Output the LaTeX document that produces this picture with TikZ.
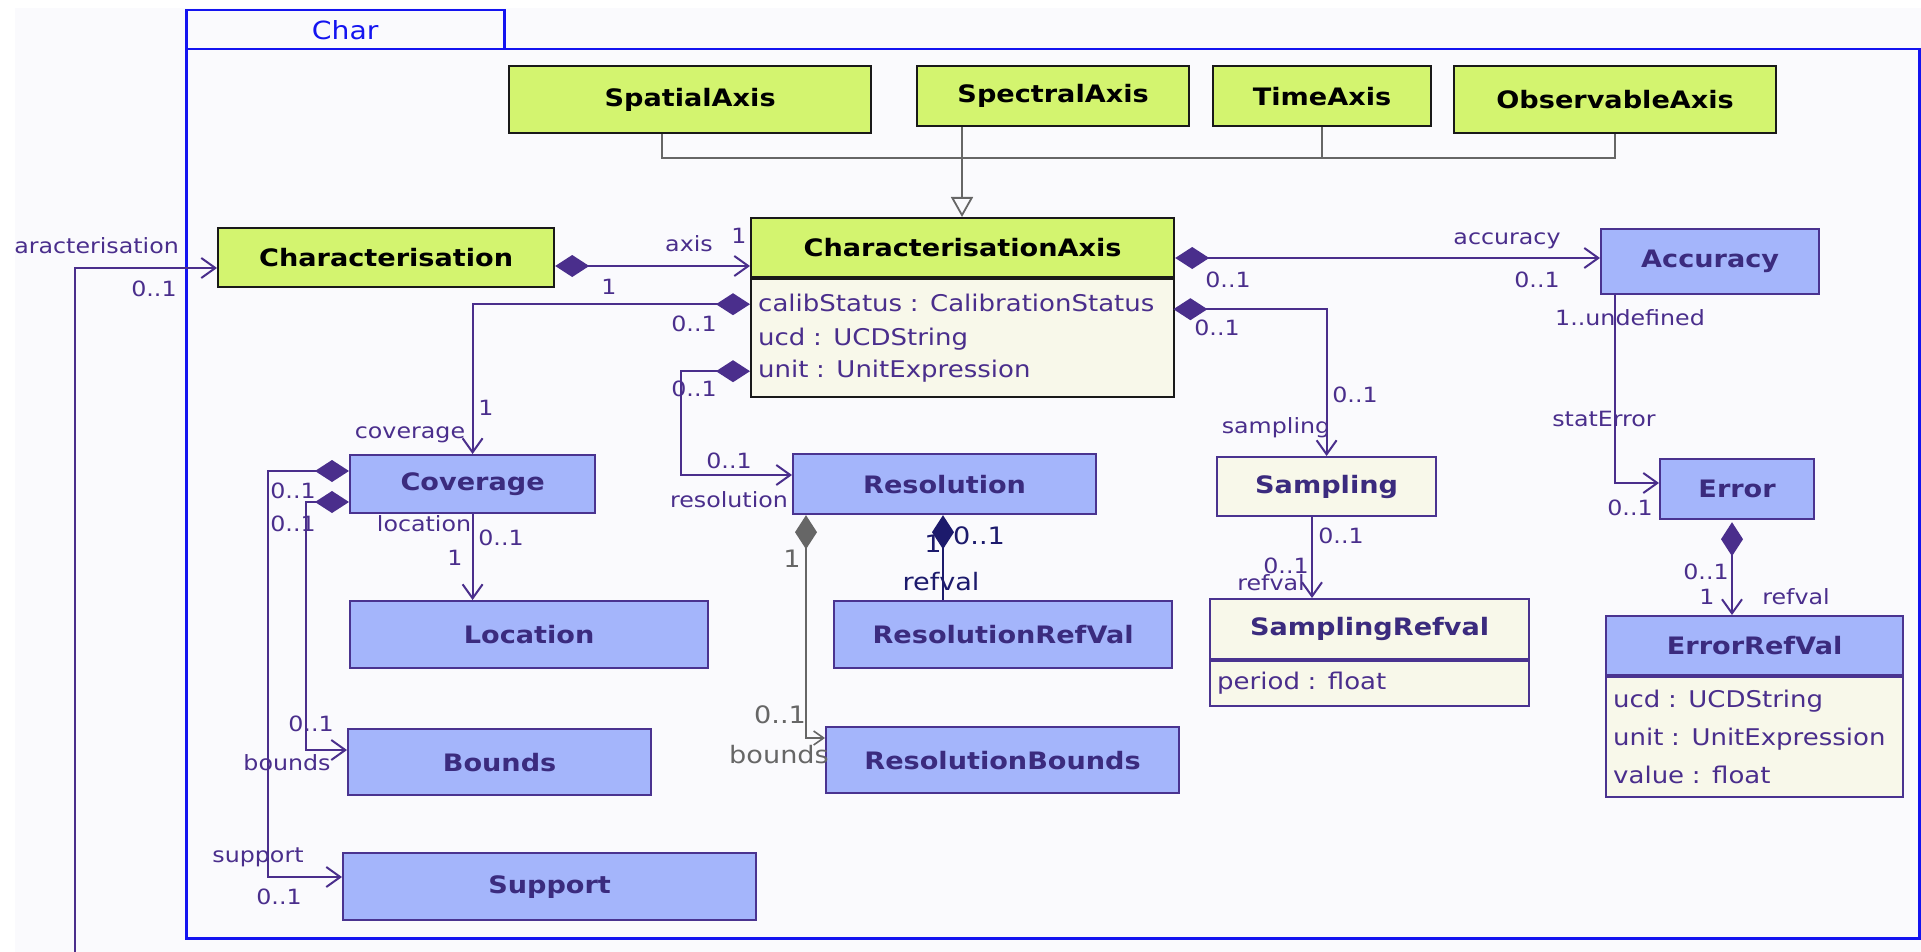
\documentclass[tikz,border=0pt]{standalone}
\usepackage{fontspec}
\setmainfont{DejaVu Sans}[FakeStretch=1.13]
\usetikzlibrary{arrows.meta,calc}

\definecolor{canvas}{HTML}{FAFAFD}
\definecolor{frameblue}{HTML}{1414F0}
\definecolor{clsblue}{HTML}{A4B5FB}
\definecolor{clsgreen}{HTML}{D3F46F}
\definecolor{cream}{HTML}{F8F8EA}
\definecolor{umlpurple}{HTML}{4A2E8C}
\definecolor{titlecol}{HTML}{3B2B7E}
\definecolor{gencol}{HTML}{666666}
\definecolor{navy}{HTML}{1C1A6C}
\definecolor{boxline}{HTML}{4A3390}

\newcommand{\clsfnt}{\bfseries\fontsize{24}{28}\selectfont}
\newcommand{\attfnt}{\fontsize{23}{27}\selectfont}
\newcommand{\lblfnt}{\fontsize{21}{25}\selectfont}
\newcommand{\biglblfnt}{\fontsize{24}{28}\selectfont}
\newcommand{\tabfnt}{\fontsize{25}{29}\selectfont}

\begin{document}
\begin{tikzpicture}[x=1pt,y=-1pt,
  cls/.style={draw=boxline, line width=2.2pt, fill=clsblue, text=titlecol,
    font=\clsfnt, inner sep=0pt, anchor=north west},
  grn/.style={cls, draw=black!90, fill=clsgreen, text=black},
  crm/.style={cls, fill=cream},
  body/.style={draw=boxline, line width=2.2pt, fill=cream, inner sep=0pt, anchor=north west},
  attr/.style={text=umlpurple, font=\attfnt, inner xsep=8pt, inner ysep=0pt,
    anchor=west, align=left},
  lbl/.style={text=umlpurple, font=\lblfnt, inner sep=0pt, text height=15pt, text depth=4pt},
  glbl/.style={lbl, text=gencol, font=\biglblfnt},
  nlbl/.style={lbl, text=navy, font=\biglblfnt},
  link/.style={draw=umlpurple, line width=2pt},
  assoc/.style={link, -{Straight Barb[length=14pt,width=20pt]}},
  comp/.style={link, {Diamond[length=34pt,width=22pt,fill=umlpurple]}-{Straight Barb[length=14pt,width=20pt]}},
  gcomp/.style={draw=gencol, line width=1.6pt,
    {Diamond[length=34pt,width=22pt,fill=gencol]}-{Straight Barb[length=10pt,width=14pt]}},
  ncomp/.style={draw=navy, line width=2pt, {Diamond[length=34pt,width=22pt,fill=navy]}-},
  gen/.style={draw=gencol, line width=1.8pt}
]
\useasboundingbox (0,0) rectangle (1921,952);
\fill[white] (0,0) rectangle (1921,952);
\begin{scope}
\clip (15,8) rectangle (1921,952);
\fill[canvas] (15,8) rectangle (1921,952);

% package frame and its tab
\node[draw=frameblue, line width=2.5pt, minimum width=1733pt, minimum height=889pt,
  anchor=north west, inner sep=0pt] (frame) at (185,48) {};
\node[draw=frameblue, line width=2.5pt, minimum width=318pt, minimum height=39pt,
  anchor=north west, inner sep=0pt, text=frameblue, font=\tabfnt] (tab) at (185,9) {Char};

% axis kinds
\node[grn, minimum width=362pt, minimum height=67pt] (spatial) at (508,65) {SpatialAxis};
\node[grn, minimum width=272pt, minimum height=60pt] (spectral) at (916,65) {SpectralAxis};
\node[grn, minimum width=218pt, minimum height=60pt] (timeax) at (1212,65) {TimeAxis};
\node[grn, minimum width=322pt, minimum height=67pt] (observ) at (1453,65) {ObservableAxis};

% main classes
\node[grn, minimum width=336pt, minimum height=59pt] (charac) at (217,227) {Characterisation};
\node[grn, minimum width=423pt, minimum height=59pt] (cax) at (750,217) {CharacterisationAxis};
\node[body, draw=black!90, minimum width=423pt, minimum height=118pt] (caxbody) at (cax.south west) {};
\node[attr, text width=407pt] (caxcalib) at ($(caxbody.north west)+(0,25)$) {calibStatus : CalibrationStatus};
\node[attr, text width=407pt] (caxucd) at ($(caxbody.north west)+(0,61)$) {ucd : UCDString};
\node[attr, text width=407pt] (caxunit) at ($(caxbody.north west)+(0,93)$) {unit : UnitExpression};

\node[cls, minimum width=218pt, minimum height=65pt] (accuracy) at (1600,228) {Accuracy};
\node[cls, minimum width=245pt, minimum height=58pt] (coverage) at (349,454) {Coverage};
\node[cls, minimum width=303pt, minimum height=60pt] (resol) at (792,453) {Resolution};
\node[crm, minimum width=219pt, minimum height=59pt] (sampling) at (1216,456) {Sampling};
\node[cls, minimum width=154pt, minimum height=60pt] (errorc) at (1659,458) {Error};

\node[cls, minimum width=358pt, minimum height=67pt] (location) at (349,600) {Location};
\node[cls, minimum width=338pt, minimum height=67pt] (rrv) at (833,600) {ResolutionRefVal};

\node[crm, minimum width=319pt, minimum height=60pt] (srv) at (1209,598) {SamplingRefval};
\node[body, minimum width=319pt, minimum height=45pt] (srvbody) at (srv.south west) {};
\node[attr, text width=303pt] (srvperiod) at ($(srvbody.north west)+(0,23)$) {period : float};

\node[cls, minimum width=297pt, minimum height=59pt] (erv) at (1605,615) {ErrorRefVal};
\node[body, minimum width=297pt, minimum height=120pt] (ervbody) at (erv.south west) {};
\node[attr, text width=281pt] (ervucd) at ($(ervbody.north west)+(0,25)$) {ucd : UCDString};
\node[attr, text width=281pt] (ervunit) at ($(ervbody.north west)+(0,63)$) {unit : UnitExpression};
\node[attr, text width=281pt] (ervvalue) at ($(ervbody.north west)+(0,99)$) {value : float};

\node[cls, minimum width=303pt, minimum height=66pt] (bounds) at (347,728) {Bounds};
\node[cls, minimum width=353pt, minimum height=66pt] (rbounds) at (825,726) {ResolutionBounds};
\node[cls, minimum width=413pt, minimum height=67pt] (support) at (342,852) {Support};

% role names and multiplicities
\node[lbl, anchor=east] (lcharac) at (179,248) {characterisation};
\node[lbl] (mcharac) at (154,291) {0..1};
\node[lbl] (laxis) at (689,246) {axis};
\node[lbl] (maxisb) at (739,238) {1};
\node[lbl] (maxisa) at (609,289) {1};
\node[lbl] (mcova) at (694,326) {0..1};
\node[lbl] (mcovb) at (486,410) {1};
\node[lbl] (lcov) at (410,433) {coverage};
\node[lbl] (mresa) at (694,391) {0..1};
\node[lbl] (mresb) at (729,463) {0..1};
\node[lbl] (lres) at (729,502) {resolution};
\node[lbl] (msama) at (1217,330) {0..1};
\node[lbl] (msamb) at (1355,397) {0..1};
\node[lbl] (lsam) at (1276,428) {sampling};
\node[lbl] (lacc) at (1507,239) {accuracy};
\node[lbl] (macca) at (1228,282) {0..1};
\node[lbl] (maccb) at (1537,282) {0..1};
\node[lbl] (mstata) at (1630,320) {1..undefined};
\node[lbl] (lstat) at (1604,421) {statError};
\node[lbl] (mstatb) at (1630,510) {0..1};
\node[lbl] (merva) at (1706,574) {0..1};
\node[lbl] (mervb) at (1707,599) {1};
\node[lbl] (lerv) at (1796,599) {refval};
\node[lbl] (lloc) at (424,526) {location};
\node[lbl] (mloca) at (501,540) {0..1};
\node[lbl] (mlocb) at (455,560) {1};
\node[lbl] (msupa) at (293,493) {0..1};
\node[lbl] (mbnda) at (293,526) {0..1};
\node[lbl] (mbndb) at (311,726) {0..1};
\node[lbl] (lbnd) at (287,765) {bounds};
\node[lbl] (lsup) at (258,857) {support};
\node[lbl] (msupb) at (279,899) {0..1};
\node[glbl] (mrba) at (792,562) {1};
\node[glbl] (mrbb) at (780,718) {0..1};
\node[glbl] (lrb) at (779,758) {bounds};
\node[nlbl] (mrrva) at (933,547) {1};
\node[nlbl] (mrrvb) at (979,539) {0..1};
\node[nlbl] (lrrv) at (941,585) {refval};
\node[lbl] (msrva) at (1341,538) {0..1};
\node[lbl] (msrvb) at (1286,568) {0..1};
\node[lbl] (lsrv) at (1271,585) {refval};

% generalisation of the axis kinds
\draw[gen] ($(spatial.south west)+(154,0)$) -- ++(0,24) -| ($(observ.south west)+(162,0)$);
\draw[gen] ($(timeax.south west)+(110,0)$) -- ++(0,31);
\draw[gen, -{Triangle[open,length=20pt,width=22pt,fill=canvas]}]
  ($(spectral.south west)+(46,0)$) -- ($(cax.north west)+(212,0)$);

% associations
\coordinate (extc) at (75,952);
\draw[assoc] (extc) |- ($(charac.north west)+(0,41)$);
\draw[comp] ($(charac.north east)+(0,39)$) -- ($(cax.north west)+(0,49)$);
\draw[comp] ($(cax.north east)+(0,41)$) -- ($(accuracy.north west)+(0,30)$);
\draw[comp] ($(caxcalib.west)+(0,1)$) -| (coverage.north);
\draw[comp] (caxunit.west) -- ++(-69,0) |- ($(resol.north west)+(0,22)$);
\draw[comp] ($(caxcalib.east)+(0,6)$) -| (sampling.north);
\draw[assoc] ($(accuracy.south west)+(15,0)$) |- ($(errorc.north west)+(0,25)$);
\draw[comp] ($(errorc.south west)+(73,2)$) -- ($(erv.north west)+(127,0)$);
\draw[assoc] (coverage.south) -- (coverage.south |- location.north);
\draw[comp] ($(coverage.north west)+(0,17)$) -- ++(-81,0) |- ($(support.north west)+(0,25)$);
\draw[comp] ($(coverage.north west)+(0,48)$) -- ++(-43,0) |- ($(bounds.north west)+(0,22)$);
\draw[gcomp] ($(resol.south west)+(14,0)$) |- ($(rbounds.north west)+(0,12)$);
\draw[ncomp] ($(resol.south west)+(151,0)$) -- ($(rrv.north west)+(110,0)$);
\draw[assoc] ($(sampling.south west)+(96,0)$) -- ($(srv.north west)+(103,0)$);
\end{scope}
\end{tikzpicture}
\end{document}
